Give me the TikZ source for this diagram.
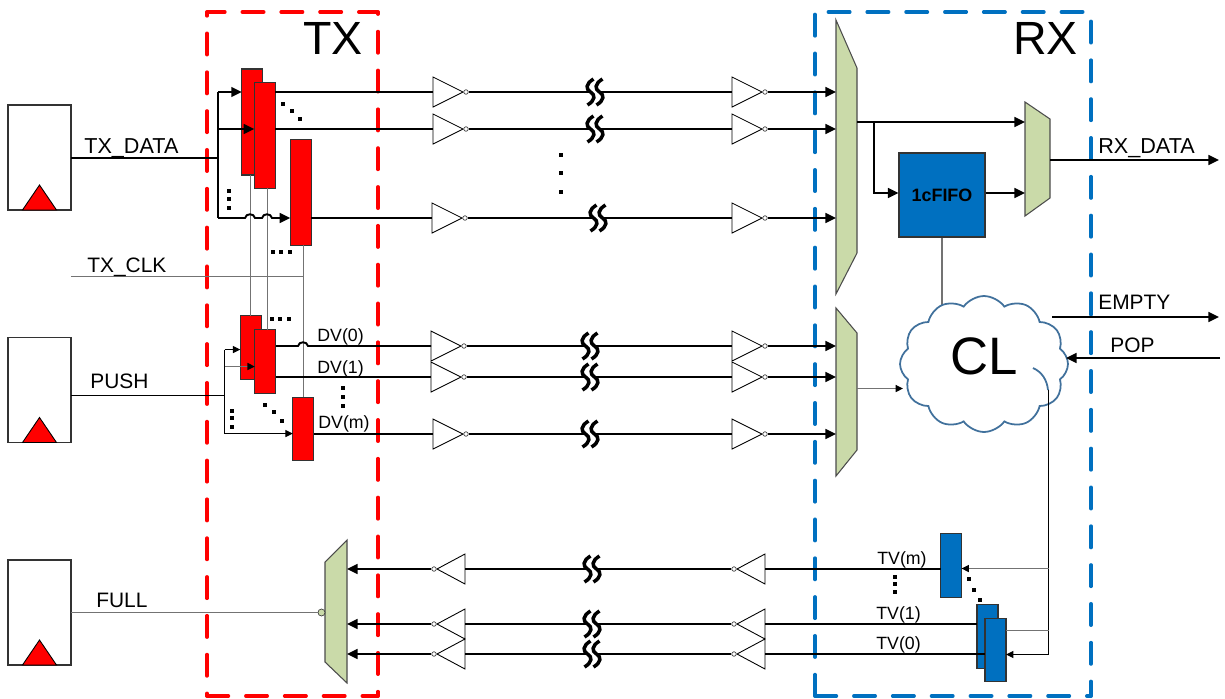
\documentclass[tikz,border=0pt]{standalone}
\usepackage{fontspec}
\setmainfont{Liberation Sans}
\usetikzlibrary{arrows.meta,shapes.symbols}
\definecolor{txred}{HTML}{FF0000}
\definecolor{rxblue}{HTML}{0070C0}
\definecolor{muxgreen}{HTML}{CADAA9}
\definecolor{cloudline}{HTML}{41719C}
\tikzset{
  >={Triangle[length=6pt,width=5.6pt]},
  sig/.style={line width=1.1pt},
  wire/.style={line width=.6pt},
  clkwire/.style={line width=.75pt,black!55},
  smalltip/.style={-{Triangle[length=4.2pt,width=4pt,color=black]}},
  frame/.style={line width=2pt,line cap=round,dash pattern=on 12.2pt off 9.9pt},
  txreg/.style={draw=black!80,fill=txred,line width=.6pt,minimum width=.42cm,minimum height=2.12cm,inner sep=0pt,outer sep=0pt},
  dvreg/.style={txreg,minimum height=1.27cm},
  tvreg/.style={dvreg,fill=rxblue},
  srcbox/.style={draw=black!80,line width=.6pt,minimum width=1.26cm,minimum height=2.1cm,inner sep=0pt,outer sep=0pt},
  mux/.style={draw=black!70,fill=muxgreen,line width=.6pt},
  dotm/.style={fill=black,minimum size=.08cm,inner sep=0pt},
  bubble/.style={circle,draw=black!75,fill=white,line width=.4pt,minimum size=.09cm,inner sep=0pt},
  lab/.style={anchor=base west,inner sep=0pt,font=\fontsize{11.9}{13}\selectfont},
  datalab/.style={lab,font=\fontsize{12.3}{13}\selectfont},
  smalllab/.style={lab,font=\fontsize{10.1}{11}\selectfont},
  biglab/.style={lab,font=\fontsize{26.5}{27}\selectfont},
  bufr/.pic={
    \draw[line width=.5pt,fill=white] (0,-15) -- (30,0) -- (0,15) -- cycle;
    \coordinate (-i) at (0,0);
    \node[bubble] (-o) at (33,0) {};
  },
  bufl/.pic={
    \draw[line width=.5pt,fill=white] (0,-15) -- (-28,0) -- (0,15) -- cycle;
    \coordinate (-i) at (0,0);
    \node[bubble] (-o) at (-31,0) {};
  },
  brk/.pic={
    \fill[white] (-4,-13) rectangle (5,13);
    \foreach \d in {-4.5,4.5}
      \draw[line width=2pt,xshift=\d*0.02cm] (3,-13) .. controls (-5,-8) and (-5,-3) .. (0,0) .. controls (5,3) and (5,8) .. (-3,13);
  },
  clkmark/.pic={
    \draw[fill=txred,line width=.5pt] (-17,0) -- (0,-25) -- (17,0) -- cycle;
  },
}
\begin{document}
\begin{tikzpicture}[x=0.02cm,y=-0.02cm]
\useasboundingbox (0,0) rectangle (1225,698);
% frames
\draw[frame,txred,dash phase=2pt] (207,12) -- (378,12);
\draw[frame,txred,dash phase=10pt] (207,12) -- (207,696);
\draw[frame,txred,dash phase=11pt] (378,12) -- (378,696);
\draw[frame,txred] (207,696) -- (378,696);
\draw[frame,rxblue,dash phase=14.5pt] (815,12) -- (1091,12);
\draw[frame,rxblue,dash phase=20.7pt] (815,12) -- (815,696);
\draw[frame,rxblue,dash phase=16.8pt] (1091,12) -- (1091,696);
\draw[frame,rxblue] (815,696) -- (1091,696);
% source boxes
\node[srcbox] (boxa) at (39.5,157.5) {};
\node[srcbox] (boxb) at (39.5,390) {};
\node[srcbox] (boxc) at (39.5,612.5) {};
\pic (clka) at (boxa.south) {clkmark};
\pic (clkb) at (boxb.south) {clkmark};
\pic (clkc) at (boxc.south) {clkmark};
% buses on the left
\coordinate (dbus) at (218,158);
\coordinate (pbus) at (224.5,395.5);
\coordinate (clkat) at (250.5,276.5);
\coordinate (clkbt) at (267.5,276.5);
\coordinate (clkct) at (303.5,276.5);
% registers
\node[txreg] (txa) at (252.3,122) {};
\node[txreg] (txb) at (264.7,135.5) {};
\node[txreg] (txc) at (300.7,192.3) {};
\node[dvreg] (dva) at (250.8,347.5) {};
\node[dvreg] (dvb) at (265.3,361.5) {};
\node[dvreg] (dvc) at (303.3,429) {};
% clock wires
\draw[clkwire] (boxa.east |- clkat) -- (clkct);
\draw[clkwire] (txa.south -| clkat) -- (dva.north -| clkat);
\draw[clkwire] (txb.south -| clkbt) -- (dvb.north -| clkbt);
\draw[clkwire] (txc.south -| clkct) -- (dvc.north -| clkct);
% data inputs
\draw[sig] (boxa.east |- dbus) -- (dbus);
\draw[sig] (218,92) -- (218,218);
\draw[sig,->] (218,92) -- (txa.west |- 0,92);
\draw[sig,->] (218,129) -- (txb.west |- 0,129);
\draw[sig,->] (218,218) -- (245,218) .. controls (246,213) and (254,213) .. (255,218) -- (262,218) .. controls (263,213) and (271,213) .. (272,218) -- (txc.west |- 0,218);
% valid inputs
\draw[wire] (boxb.east |- pbus) -- (pbus);
\draw[wire] (224.5,349.5) -- (224.5,433.5);
\draw[wire,smalltip] (224.5,349.5) -- (dva.west |- 0,349.5);
\draw[clkwire,smalltip] (224.5,366.5) -- (dvb.west |- 0,366.5);
\draw[wire,smalltip] (224.5,433.5) -- (dvc.west |- 0,433.5);
% muxes
\draw[mux] (836,20) coordinate (muxd) -- (857,68) -- (857,253) coordinate (muxdo) -- (836,294) -- cycle;
\draw[mux] (836,308) coordinate (muxv) -- (857,333) -- (857,450) coordinate (muxvo) -- (836,476) -- cycle;
\draw[mux] (1025,102) coordinate (muxr) -- (1050,119) -- (1050,198) coordinate (muxro) -- (1025,216) -- cycle;
\draw[mux] (325,562) -- (347,540) coordinate (muxf) -- (347,683) -- (325,662) -- cycle;
% forward rows
\foreach \n/\y/\xb/\xc/\m in {a/92/433/595/muxd,b/129/433/595/muxd,c/218/432/598/muxd,d/346/431/590/muxv,e/377/431/590/muxv,f/434/433/590/muxv}{
  \pic (\n l) at (\xb,\y) {bufr};
  \pic (\n r) at (732,\y) {bufr};
  \draw[sig] (\n l-o) -- (\n r-i);
  \pic (\n x) at (\xc,\y) {brk};
  \draw[sig,->] (\n r-o) -- (\m |- \n r-o);
}
\draw[sig] (txb.east |- al-i) -- (al-i);
\draw[sig] (txb.east |- bl-i) -- (bl-i);
\draw[sig] (txc.east |- cl-i) -- (cl-i);
\draw[sig] (dvb.east |- dl-i) -- (298,346) .. controls (299,341) and (307,341) .. (308,346) -- (dl-i);
\draw[sig] (dvb.east |- el-i) -- (el-i);
\draw[sig] (dvc.east |- fl-i) -- (fl-i);
% feedback rows
\node[tvreg] (tvm) at (951,565.5) {};
\node[tvreg] (tva) at (987.5,636.5) {};
\node[tvreg] (tvz) at (995.5,650) {};
\foreach \n/\s/\y in {g/tvm/569,h/tva/624,i/tvz/654}{
  \pic (\n r) at (765,\y) {bufl};
  \pic (\n l) at (465,\y) {bufl};
  \draw[sig] (\s.west |- \n r-i) -- (\n r-i);
  \draw[sig] (\n r-o) -- (\n l-i);
  \pic (\n x) at (592,\y) {brk};
  \draw[sig,->] (\n l-o) -- (muxf |- \n l-o);
}
\node[bubble,minimum size=.14cm,fill=muxgreen] (fullb) at (321.5,612.5) {};
\draw[clkwire] (boxc.east |- fullb) -- (fullb);
% fifo and output
\node[draw=black!80,fill=rxblue,line width=.6pt,minimum width=1.72cm,minimum height=1.68cm,inner sep=0pt,font=\fontsize{10.2}{11}\selectfont\bfseries] (fifo) at (942,195) {1cFIFO};
\coordinate (fifotap) at (873.7,122);
\draw[sig,->] (muxdo |- fifotap) -- (muxr |- fifotap);
\draw[sig,->] (fifotap) |- (fifo.west |- 0,193);
\draw[sig,->] (fifo.east |- 0,193) -- (muxr |- 0,193);
\coordinate (rxend) at (1219,160);
\draw[sig,->] (muxro |- rxend) -- (rxend);
% control logic
\draw[clkwire] (fifo.south) -- (fifo.south |- 0,309);
\node[cloud,draw=cloudline,fill=white,line width=1pt,cloud puffs=12,cloud puff arc=110,minimum width=3.36cm,minimum height=2.72cm,inner sep=0pt,aspect=1.2] (cl) at (984,364) {};
\draw[cloudline,line width=1pt] (1033,368) .. controls (1042,372) and (1047,380) .. (1048,390);
\draw[clkwire,smalltip] (muxvo |- 0,388.5) -- (903,388.5);
\coordinate (emptyend) at (1219,317);
\coordinate (popend) at (1220,358);
\draw[sig,->] (1052,317) -- (emptyend);
\draw[sig,->] (popend) -- (1066,358);
\coordinate (tvtrunk) at (1048.5,390);
\draw[wire] (tvtrunk) -- (1048.5,654.5);
\draw[clkwire,smalltip] (1048.5,568.5) -- (tvm.east |- 0,568.5);
\draw[clkwire] (1048.5,630.5) -- (tvz.east |- 0,630.5);
\draw[wire,smalltip] (1048.5,654.5) -- (tvz.east |- 0,654.5);
% dots
\foreach \x/\y [count=\i] in {283/104,292/111,300/119,229/191,229/199,229/208,273/252,281/252,290/252,272/319,280/319,289/319,232/411,232/418,232/427,265/405,274/412,282/421,342.5/388,342.5/397,342.5/406,895/577,895/584,895/592,969/579,974/590,980/600}
  \node[dotm] (dot\i) at (\x,\y) {};
\foreach \x/\y [count=\i] in {561/155,561/173,561/192}
  \node[dotm,minimum size=.09cm] (mid\i) at (\x,\y) {};
% labels
\node[biglab] (txlab) at (303,54) {TX};
\node[biglab] (rxlab) at (1013,54) {RX};
\node[lab,font=\fontsize{30}{31}\selectfont] (cllab) at (950,374) {CL};
\node[datalab] (tdlab) at (84,153) {TX\_DATA};
\node[lab] (tclab) at (87,272) {TX\_CLK};
\node[lab] (pushlab) at (90,388) {PUSH};
\node[lab] (fulllab) at (96,607) {FULL};
\node[datalab] (rdlab) at (1098,153) {RX\_DATA};
\node[lab] (emptylab) at (1098,309) {EMPTY};
\node[lab] (poplab) at (1110,352) {POP};
\node[smalllab] (dvzlab) at (317,341) {DV(0)};
\node[smalllab] (dvalab) at (317,373) {DV(1)};
\node[smalllab] (dvmlab) at (318,428) {DV(m)};
\node[smalllab] (tvmlab) at (877,564) {TV(m)};
\node[smalllab] (tvalab) at (876,619) {TV(1)};
\node[smalllab] (tvzlab) at (876,649) {TV(0)};
\end{tikzpicture}
\end{document}
